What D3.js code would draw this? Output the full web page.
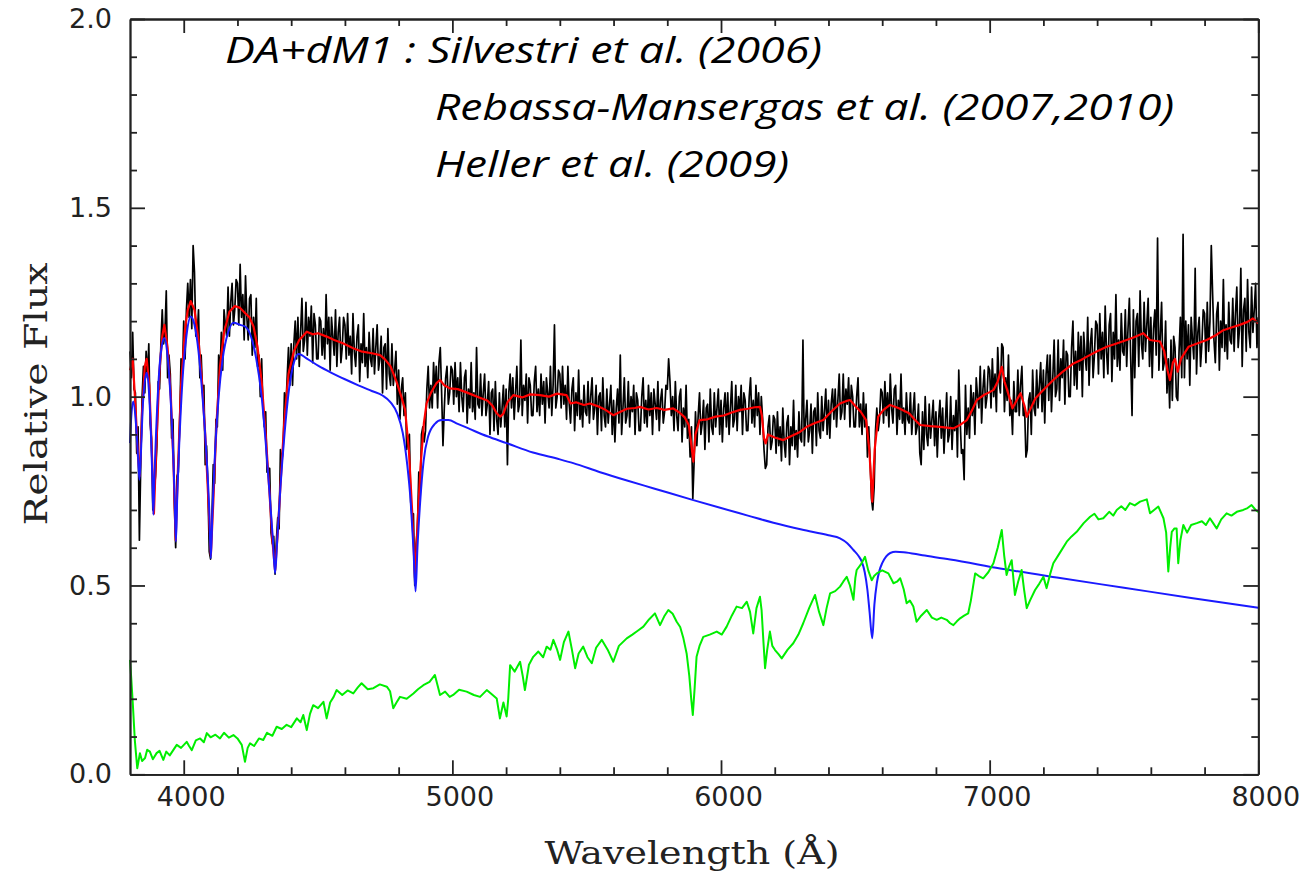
<!DOCTYPE html>
<html>
<head>
<meta charset="utf-8">
<script src="https://cdn.jsdelivr.net/npm/d3@7"></script>
<style>
  body { margin: 0; background: #fff; }
  svg { display: block; }
  .labels .tick text { font-family: 'DejaVu Sans', sans-serif; font-size: 27px; fill: #222; }
</style>
</head>
<body>
<svg id="chart"></svg>
<script>
const width = 1307;
const height = 873;
const plotLeft = 130;
const plotRight = 1258.3;
const plotTop = 19;
const plotBottom = 774.3;

const titleLines = [
    'DA+dM1 : Silvestri et al. (2006)',
    'Rebassa-Mansergas et al. (2007,2010)',
    'Heller et al. (2009)'
];
const xLabel = 'Wavelength (Å)';
const yLabel = 'Relative Flux';

const xMajorTicks = [4000, 5000, 6000, 7000, 8000];
const xMinorTicks = [4200, 4400, 4600, 4800, 5200, 5400, 5600, 5800, 6200, 6400, 6600, 6800, 7200, 7400, 7600, 7800];
const yMajorTicks = [0, 0.5, 1, 1.5, 2];
const yMinorTicks = [0.1, 0.2, 0.3, 0.4, 0.6, 0.7, 0.8, 0.9, 1.1, 1.2, 1.3, 1.4, 1.6, 1.7, 1.8, 1.9];

// observed spectrum, 5 A bins from 3800 A (one row = 100 A)
const blackStart = 3800;
const blackStep = 5;
const blackFlux = [
    1.12, 1.05, 1.17, 1.02, 1.01, 0.85, 0.92, 0.62, 0.82, 1.00, 1.08, 1.01, 1.12, 1.05, 1.14, 0.93, 0.89, 0.70, 0.75, 0.79,
    0.87, 1.04, 1.02, 1.14, 1.23, 1.14, 1.17, 1.28, 1.05, 1.11, 1.06, 0.89, 0.94, 0.72, 0.60, 0.79, 0.80, 0.94, 1.10, 1.06,
    1.20, 1.10, 1.23, 1.30, 1.21, 1.31, 1.18, 1.40, 1.33, 1.16, 1.16, 1.23, 1.05, 1.11, 1.01, 1.03, 0.82, 0.87, 0.76, 0.59,
    0.57, 0.68, 0.82, 0.77, 0.94, 0.92, 1.11, 1.06, 1.17, 1.07, 1.23, 1.19, 1.16, 1.29, 1.16, 1.25, 1.30, 1.19, 1.23, 1.31,
    1.30, 1.19, 1.35, 1.21, 1.27, 1.15, 1.32, 1.21, 1.15, 1.26, 1.27, 1.11, 1.21, 1.13, 1.26, 1.08, 1.11, 1.00, 1.10, 0.97,
    0.92, 0.96, 0.80, 0.81, 0.81, 0.64, 0.61, 0.63, 0.53, 0.62, 0.68, 0.65, 0.86, 0.83, 0.86, 1.01, 0.97, 1.05, 1.13, 1.03,
    1.14, 1.03, 1.14, 1.20, 1.10, 1.21, 1.08, 1.17, 1.26, 1.12, 1.15, 1.25, 1.11, 1.21, 1.16, 1.24, 1.09, 1.22, 1.19, 1.10,
    1.10, 1.21, 1.20, 1.11, 1.18, 1.10, 1.27, 1.14, 1.21, 1.07, 1.21, 1.16, 1.11, 1.23, 1.08, 1.17, 1.21, 1.09, 1.13, 1.21,
    1.19, 1.10, 1.22, 1.11, 1.16, 1.06, 1.22, 1.12, 1.08, 1.16, 1.19, 1.04, 1.14, 1.09, 1.22, 1.08, 1.13, 1.05, 1.17, 1.10,
    1.08, 1.18, 1.06, 1.13, 1.19, 1.07, 1.10, 1.16, 1.01, 1.13, 1.14, 1.02, 1.18, 1.06, 1.03, 1.14, 1.03, 1.07, 1.12, 0.98,
    1.07, 0.94, 1.02, 1.05, 0.95, 1.01, 0.86, 0.89, 0.90, 0.72, 0.68, 0.69, 0.50, 0.61, 0.65, 0.80, 0.73, 0.90, 0.92, 0.88,
    0.91, 1.02, 1.08, 0.97, 1.03, 0.97, 1.09, 1.01, 1.08, 0.97, 1.09, 1.13, 1.01, 0.87, 0.97, 1.05, 1.08, 0.98, 1.01, 1.08,
    1.07, 0.98, 1.09, 1.00, 1.05, 0.96, 1.09, 1.00, 0.96, 1.05, 1.07, 0.93, 1.02, 0.97, 1.09, 0.96, 1.01, 0.94, 1.13, 0.98,
    0.97, 1.06, 0.95, 1.01, 1.06, 0.95, 0.98, 1.04, 0.90, 1.01, 1.02, 0.91, 1.04, 0.94, 0.90, 1.01, 0.92, 0.97, 1.03, 0.92,
    1.02, 0.82, 1.01, 1.06, 0.97, 1.05, 0.94, 1.01, 1.08, 0.96, 0.98, 1.15, 0.95, 1.03, 0.99, 1.06, 0.93, 1.05, 1.03, 0.95,
    0.95, 1.04, 1.08, 0.96, 1.02, 0.95, 1.06, 0.98, 1.04, 0.93, 1.05, 1.01, 0.97, 1.08, 0.95, 1.03, 1.19, 0.97, 1.00, 1.07,
    1.06, 0.97, 1.08, 0.98, 1.03, 0.94, 1.08, 0.98, 0.93, 1.02, 1.05, 0.91, 1.01, 0.95, 1.07, 0.94, 0.99, 0.92, 1.03, 0.96,
    0.95, 1.04, 0.93, 1.00, 1.05, 0.94, 0.97, 1.03, 0.90, 1.00, 1.01, 0.91, 1.05, 0.95, 0.92, 1.02, 0.93, 0.98, 1.03, 0.90,
    0.99, 0.88, 0.97, 1.02, 0.93, 1.11, 0.90, 0.97, 1.05, 0.93, 0.95, 1.04, 0.92, 1.00, 0.96, 1.03, 0.90, 1.01, 0.99, 0.91,
    0.91, 1.00, 1.05, 0.93, 0.99, 0.92, 1.03, 0.95, 1.01, 0.90, 1.02, 0.98, 0.94, 1.04, 0.91, 0.99, 1.02, 0.93, 0.96, 1.03,
    1.02, 1.10, 1.04, 0.95, 1.00, 0.91, 1.04, 0.95, 0.91, 1.00, 1.02, 0.88, 0.97, 0.92, 1.03, 0.89, 0.94, 0.84, 0.92, 0.73,
    0.83, 0.96, 0.87, 0.95, 1.01, 0.90, 0.93, 0.99, 0.86, 0.97, 0.98, 0.88, 1.02, 0.92, 0.90, 1.01, 0.92, 0.97, 1.02, 0.90,
    0.99, 0.88, 0.97, 1.01, 0.92, 1.01, 0.90, 0.97, 1.04, 0.92, 0.94, 1.03, 0.91, 1.00, 0.96, 1.03, 0.90, 1.01, 0.99, 0.91,
    0.91, 1.00, 1.05, 0.93, 0.99, 0.92, 1.03, 0.95, 1.01, 0.90, 1.00, 0.94, 0.86, 0.81, 0.82, 0.92, 0.95, 0.86, 0.88, 0.95,
    0.94, 0.85, 0.96, 0.87, 0.92, 0.83, 0.97, 0.88, 0.84, 0.93, 0.95, 0.82, 0.92, 0.87, 0.99, 0.86, 0.91, 0.84, 0.96, 0.89,
    0.88, 1.15, 0.87, 0.94, 0.99, 0.88, 0.91, 0.98, 0.85, 0.96, 0.97, 0.87, 1.01, 0.91, 0.89, 1.00, 0.91, 0.96, 1.02, 0.90,
    0.99, 0.89, 0.98, 1.02, 0.94, 1.02, 0.92, 0.99, 1.06, 0.94, 0.96, 1.06, 0.94, 1.02, 0.98, 1.05, 0.92, 1.03, 1.00, 0.92,
    0.92, 1.00, 1.05, 0.92, 0.98, 0.90, 1.01, 0.92, 0.98, 0.84, 0.92, 0.83, 0.73, 0.70, 0.76, 0.91, 0.97, 0.91, 0.94, 1.02,
    1.01, 0.93, 1.04, 0.95, 1.01, 0.92, 1.06, 0.97, 0.93, 1.02, 1.03, 0.90, 0.99, 0.94, 1.06, 0.93, 0.97, 0.90, 1.01, 0.94,
    0.93, 1.01, 0.90, 0.96, 1.01, 0.90, 0.92, 0.98, 0.85, 0.82, 0.96, 0.86, 1.00, 0.90, 0.87, 0.98, 0.89, 0.94, 0.99, 0.87,
    0.96, 0.84, 0.94, 0.99, 0.89, 0.97, 0.85, 0.93, 1.01, 0.88, 0.90, 1.00, 0.86, 0.95, 0.91, 0.99, 0.84, 1.07, 0.94, 0.85,
    0.86, 0.78, 1.03, 0.90, 0.97, 0.89, 1.03, 0.95, 1.01, 0.90, 1.05, 1.00, 0.97, 1.08, 0.93, 1.02, 1.07, 0.97, 1.00, 1.08,
    1.07, 0.97, 1.10, 1.00, 1.06, 0.96, 1.13, 1.04, 1.01, 1.14, 1.13, 0.96, 1.05, 0.99, 1.11, 0.95, 0.99, 0.90, 1.04, 0.96,
    0.96, 1.07, 0.95, 1.03, 1.08, 0.95, 0.97, 0.84, 0.86, 0.99, 1.01, 0.90, 1.07, 0.97, 0.95, 1.07, 0.97, 1.03, 1.09, 0.96,
    1.07, 0.93, 1.06, 1.11, 0.99, 1.11, 0.96, 1.05, 1.15, 1.00, 1.02, 1.15, 0.99, 1.10, 1.05, 1.15, 0.98, 1.12, 1.11, 1.00,
    1.00, 1.13, 1.20, 1.03, 1.12, 1.02, 1.17, 1.07, 1.16, 1.00, 1.17, 1.11, 1.07, 1.21, 1.03, 1.14, 1.18, 1.05, 1.11, 1.20,
    1.19, 1.06, 1.22, 1.10, 1.17, 1.05, 1.24, 1.12, 1.06, 1.19, 1.22, 1.04, 1.17, 1.10, 1.27, 1.08, 1.15, 1.07, 1.22, 1.12,
    1.11, 1.23, 1.08, 1.18, 1.26, 1.10, 0.95, 1.23, 1.05, 1.20, 1.22, 1.08, 1.28, 1.14, 1.10, 1.25, 1.12, 1.19, 1.26, 1.08,
    1.21, 1.05, 1.18, 1.23, 1.11, 1.42, 1.07, 1.16, 1.25, 1.07, 1.09, 1.20, 1.01, 1.10, 0.97, 1.15, 0.99, 1.16, 1.13, 1.00,
    0.99, 1.12, 1.21, 1.05, 1.43, 1.05, 1.20, 1.10, 1.19, 1.03, 1.21, 1.15, 1.10, 1.34, 1.06, 1.17, 1.21, 1.08, 1.14, 1.23,
    1.22, 1.09, 1.25, 1.12, 1.20, 1.40, 1.27, 1.15, 1.09, 1.22, 1.25, 1.07, 1.20, 1.13, 1.31, 1.12, 1.19, 1.10, 1.25, 1.15,
    1.14, 1.26, 1.12, 1.22, 1.29, 1.13, 1.18, 1.34, 1.08, 1.23, 1.26, 1.12, 1.31, 1.17, 1.13, 1.29, 1.17, 1.23, 1.30, 1.13,
    1.21
];

// composite fit (WD + dM)
const redSpectrum = [
    [3800, 1.07], [3810, 1.10], [3820, 0.98], [3830, 0.84], [3836, 0.79], [3845, 0.96], [3855, 1.08], [3862, 1.10],
    [3872, 1.03], [3882, 0.84], [3889, 0.69], [3897, 0.85], [3910, 1.07], [3920, 1.16], [3928, 1.19], [3940, 1.13],
    [3952, 1.00], [3962, 0.82], [3970, 0.62], [3978, 0.80], [3990, 1.03], [4005, 1.18], [4015, 1.23], [4026, 1.253],
    [4040, 1.23], [4055, 1.15], [4068, 1.04], [4080, 0.90], [4092, 0.72], [4101, 0.58], [4110, 0.72], [4122, 0.93],
    [4135, 1.08], [4150, 1.17], [4170, 1.225], [4190, 1.24], [4210, 1.235], [4230, 1.22], [4245, 1.21], [4260, 1.185],
    [4275, 1.13], [4290, 1.04], [4305, 0.90], [4318, 0.76], [4330, 0.62], [4340, 0.54], [4350, 0.64], [4362, 0.79],
    [4375, 0.94], [4390, 1.06], [4410, 1.12], [4430, 1.15], [4458, 1.172], [4480, 1.165], [4500, 1.168], [4532, 1.159],
    [4560, 1.15], [4590, 1.142], [4631, 1.128], [4660, 1.12], [4700, 1.115], [4731, 1.110], [4750, 1.098], [4770, 1.08],
    [4792, 1.04], [4810, 1.00], [4824, 0.965], [4838, 0.86], [4850, 0.70], [4861, 0.52], [4870, 0.66], [4882, 0.82],
    [4894, 0.93], [4904, 0.982], [4920, 1.01], [4940, 1.035], [4954, 1.044], [4970, 1.03], [4990, 1.022], [5020, 1.02],
    [5050, 1.012], [5078, 1.004], [5100, 0.998], [5130, 0.99], [5150, 0.975], [5165, 0.956], [5178, 0.947], [5190, 0.955],
    [5205, 0.985], [5227, 1.004], [5260, 0.998], [5290, 1.006], [5326, 1.004], [5360, 1.0], [5390, 1.008], [5425, 1.004],
    [5440, 0.982], [5460, 0.985], [5490, 0.978], [5512, 0.982], [5540, 0.975], [5570, 0.965], [5599, 0.951], [5620, 0.958],
    [5650, 0.968], [5680, 0.97], [5698, 0.973], [5730, 0.966], [5760, 0.97], [5790, 0.965], [5822, 0.969], [5845, 0.958],
    [5865, 0.945], [5880, 0.925], [5890, 0.87], [5897, 0.828], [5905, 0.90], [5920, 0.938], [5950, 0.94], [5980, 0.947],
    [6010, 0.95], [6040, 0.958], [6071, 0.965], [6100, 0.968], [6125, 0.972], [6145, 0.973], [6152, 0.95], [6160, 0.89],
    [6166, 0.876], [6175, 0.90], [6200, 0.892], [6232, 0.885], [6260, 0.895], [6290, 0.905], [6319, 0.92], [6350, 0.93],
    [6381, 0.938], [6410, 0.96], [6443, 0.982], [6465, 0.988], [6480, 0.991], [6500, 0.975], [6520, 0.96], [6540, 0.938],
    [6552, 0.86], [6563, 0.722], [6572, 0.86], [6585, 0.947], [6605, 0.965], [6629, 0.978], [6660, 0.97], [6700, 0.956],
    [6720, 0.94], [6741, 0.925], [6780, 0.922], [6815, 0.92], [6840, 0.918], [6865, 0.916], [6890, 0.925], [6915, 0.938],
    [6935, 0.965], [6952, 0.991], [6980, 1.005], [7000, 1.012], [7015, 1.018], [7030, 1.04], [7045, 1.079], [7055, 1.04],
    [7065, 1.018], [7085, 0.969], [7100, 0.99], [7115, 1.009], [7130, 0.975], [7138, 0.947], [7150, 0.965], [7170, 0.995],
    [7188, 1.009], [7210, 1.025], [7237, 1.044], [7270, 1.065], [7312, 1.088], [7340, 1.097], [7362, 1.106], [7400, 1.12],
    [7436, 1.132], [7470, 1.14], [7510, 1.150], [7540, 1.158], [7572, 1.168], [7597, 1.150], [7615, 1.148], [7634, 1.146],
    [7650, 1.12], [7662, 1.07], [7671, 1.044], [7682, 1.09], [7690, 1.10], [7700, 1.066], [7712, 1.10], [7740, 1.132],
    [7770, 1.14], [7808, 1.15], [7840, 1.162], [7870, 1.176], [7900, 1.183], [7931, 1.19], [7960, 1.198], [7980, 1.207],
    [8000, 1.194]
];

// white dwarf (DA) model
const blueSpectrum = [
    [3800, 0.877], [3805, 0.95], [3812, 0.987], [3822, 0.93], [3830, 0.84], [3835, 0.78], [3840, 0.84], [3848, 0.98],
    [3855, 1.04], [3862, 1.063], [3870, 1.02], [3878, 0.90], [3883, 0.79], [3887, 0.687], [3891, 0.79], [3898, 0.92],
    [3910, 1.08], [3920, 1.14], [3928, 1.155], [3938, 1.12], [3950, 1.01], [3960, 0.86], [3966, 0.74], [3971, 0.616],
    [3976, 0.74], [3983, 0.87], [3995, 1.04], [4010, 1.16], [4026, 1.212], [4040, 1.19], [4055, 1.12], [4070, 1.00],
    [4085, 0.84], [4095, 0.70], [4101, 0.572], [4107, 0.70], [4117, 0.86], [4130, 1.00], [4145, 1.10], [4165, 1.17],
    [4185, 1.196], [4210, 1.19], [4230, 1.185], [4250, 1.16], [4270, 1.10], [4290, 1.00], [4305, 0.88], [4320, 0.74],
    [4332, 0.62], [4340, 0.532], [4348, 0.62], [4360, 0.76], [4375, 0.90], [4392, 1.02], [4410, 1.09], [4427, 1.113],
    [4460, 1.10], [4500, 1.082], [4550, 1.063], [4600, 1.046], [4650, 1.03], [4700, 1.015], [4740, 1.003], [4770, 0.985],
    [4795, 0.955], [4815, 0.905], [4832, 0.82], [4845, 0.72], [4855, 0.60], [4863, 0.484], [4870, 0.60], [4880, 0.72],
    [4893, 0.83], [4910, 0.895], [4935, 0.928], [4960, 0.938], [4985, 0.938], [5020, 0.928], [5066, 0.914], [5130, 0.895],
    [5202, 0.877], [5300, 0.852], [5400, 0.834], [5450, 0.824], [5550, 0.80], [5650, 0.778], [5750, 0.757], [5897, 0.726],
    [6000, 0.705], [6100, 0.685], [6195, 0.666], [6300, 0.648], [6400, 0.633], [6443, 0.625], [6470, 0.612], [6493, 0.594],
    [6512, 0.578], [6524, 0.563], [6535, 0.535], [6545, 0.488], [6553, 0.43], [6563, 0.36], [6571, 0.45], [6580, 0.506],
    [6590, 0.54], [6600, 0.559], [6615, 0.577], [6630, 0.586], [6650, 0.589], [6680, 0.588], [6750, 0.58], [6853, 0.569],
    [7039, 0.545], [7250, 0.521], [7500, 0.494], [7750, 0.467], [8000, 0.441]
];

// M dwarf (dM1) template
const greenSpectrum = [
    [3800, 0.303], [3805, 0.25], [3811, 0.18], [3818, 0.09], [3827, 0.016], [3837, 0.056], [3845, 0.035], [3856, 0.043],
    [3864, 0.065], [3874, 0.06], [3885, 0.04], [3899, 0.056], [3910, 0.062], [3924, 0.038], [3935, 0.06], [3948, 0.05],
    [3961, 0.064], [3974, 0.078], [3990, 0.07], [4011, 0.086], [4020, 0.075], [4030, 0.064], [4045, 0.09], [4061, 0.095],
    [4075, 0.085], [4086, 0.109], [4100, 0.098], [4118, 0.105], [4135, 0.095], [4150, 0.11], [4168, 0.097], [4185, 0.104],
    [4200, 0.095], [4216, 0.078], [4228, 0.033], [4238, 0.07], [4247, 0.082], [4262, 0.075], [4280, 0.095], [4296, 0.091],
    [4310, 0.11], [4330, 0.102], [4346, 0.126], [4365, 0.12], [4383, 0.131], [4400, 0.125], [4421, 0.148], [4435, 0.138],
    [4445, 0.157], [4458, 0.117], [4470, 0.16], [4482, 0.183], [4500, 0.175], [4520, 0.192], [4532, 0.148], [4545, 0.19],
    [4558, 0.205], [4569, 0.223], [4590, 0.21], [4610, 0.222], [4631, 0.214], [4648, 0.23], [4662, 0.241], [4685, 0.225],
    [4706, 0.228], [4730, 0.238], [4756, 0.232], [4768, 0.22], [4780, 0.175], [4792, 0.19], [4805, 0.205], [4830, 0.20],
    [4855, 0.214], [4872, 0.225], [4892, 0.236], [4915, 0.245], [4935, 0.263], [4945, 0.235], [4954, 0.21], [4973, 0.219],
    [4990, 0.205], [5003, 0.21], [5025, 0.224], [5053, 0.219], [5080, 0.21], [5103, 0.205], [5128, 0.223], [5150, 0.21],
    [5165, 0.201], [5177, 0.148], [5190, 0.19], [5202, 0.153], [5208, 0.2], [5215, 0.289], [5232, 0.272], [5252, 0.298],
    [5262, 0.26], [5270, 0.223], [5285, 0.29], [5301, 0.311], [5320, 0.325], [5338, 0.31], [5351, 0.338], [5365, 0.33],
    [5376, 0.356], [5390, 0.33], [5401, 0.303], [5415, 0.35], [5432, 0.378], [5445, 0.33], [5457, 0.281], [5470, 0.32],
    [5487, 0.338], [5503, 0.31], [5519, 0.294], [5535, 0.335], [5556, 0.356], [5578, 0.33], [5599, 0.298], [5620, 0.34],
    [5649, 0.36], [5670, 0.37], [5690, 0.38], [5711, 0.391], [5732, 0.41], [5754, 0.426], [5773, 0.395], [5790, 0.42],
    [5804, 0.435], [5820, 0.425], [5835, 0.404], [5848, 0.39], [5860, 0.36], [5872, 0.32], [5882, 0.26], [5889, 0.20],
    [5895, 0.157], [5902, 0.23], [5909, 0.311], [5920, 0.34], [5934, 0.364], [5958, 0.37], [5984, 0.378], [6003, 0.37],
    [6021, 0.391], [6040, 0.42], [6058, 0.444], [6078, 0.44], [6096, 0.457], [6108, 0.43], [6120, 0.373], [6132, 0.44],
    [6145, 0.470], [6151, 0.435], [6158, 0.35], [6164, 0.281], [6172, 0.33], [6182, 0.378], [6191, 0.34], [6201, 0.329],
    [6214, 0.318], [6226, 0.307], [6248, 0.33], [6269, 0.347], [6288, 0.37], [6306, 0.40], [6328, 0.44], [6350, 0.475],
    [6365, 0.43], [6381, 0.395], [6393, 0.44], [6406, 0.479], [6425, 0.485], [6443, 0.497], [6455, 0.51], [6468, 0.523],
    [6480, 0.50], [6493, 0.462], [6500, 0.52], [6505, 0.541], [6520, 0.555], [6536, 0.576], [6548, 0.54], [6561, 0.514],
    [6570, 0.525], [6580, 0.532], [6600, 0.54], [6623, 0.532], [6642, 0.506], [6655, 0.51], [6667, 0.519], [6680, 0.49],
    [6691, 0.453], [6703, 0.46], [6716, 0.444], [6728, 0.404], [6745, 0.42], [6766, 0.435], [6785, 0.415], [6803, 0.409],
    [6820, 0.415], [6840, 0.409], [6853, 0.40], [6865, 0.395], [6878, 0.405], [6890, 0.413], [6905, 0.42], [6920, 0.426],
    [6930, 0.46], [6946, 0.532], [6960, 0.525], [6976, 0.519], [6995, 0.535], [7014, 0.559], [7030, 0.60], [7045, 0.647],
    [7054, 0.58], [7063, 0.528], [7072, 0.55], [7082, 0.567], [7094, 0.475], [7106, 0.51], [7119, 0.541], [7128, 0.49],
    [7138, 0.44], [7150, 0.46], [7169, 0.488], [7185, 0.505], [7200, 0.523], [7212, 0.493], [7225, 0.53], [7237, 0.559],
    [7260, 0.585], [7287, 0.616], [7305, 0.63], [7324, 0.642], [7350, 0.665], [7374, 0.682], [7390, 0.69], [7405, 0.675],
    [7423, 0.678], [7445, 0.695], [7460, 0.685], [7473, 0.70], [7490, 0.71], [7505, 0.70], [7522, 0.718], [7540, 0.712],
    [7560, 0.722], [7585, 0.728], [7597, 0.691], [7612, 0.70], [7628, 0.709], [7647, 0.678], [7657, 0.64], [7665, 0.537],
    [7672, 0.60], [7678, 0.642], [7688, 0.651], [7696, 0.651], [7702, 0.559], [7710, 0.62], [7721, 0.66], [7735, 0.64],
    [7750, 0.66], [7771, 0.665], [7790, 0.67], [7805, 0.66], [7820, 0.678], [7832, 0.665], [7845, 0.651], [7862, 0.675],
    [7882, 0.691], [7900, 0.685], [7920, 0.695], [7944, 0.70], [7960, 0.705], [7975, 0.713], [7990, 0.70], [8000, 0.695]
];

const blackSpectrum = blackFlux.map((f, i) => [blackStart + i * blackStep, f]);

const svg = d3.select('#chart')
    .attr('width', width)
    .attr('height', height);

const x = d3.scaleLinear().domain([3800, 8000]).range([plotLeft, plotRight]);
const y = d3.scaleLinear().domain([0, 2]).range([plotBottom, plotTop]);

const line = d3.line().x(d => x(d[0])).y(d => y(d[1]));
const smoothLine = d3.line().x(d => x(d[0])).y(d => y(d[1])).curve(d3.curveMonotoneX);

const plot = svg.append('g');

plot.append('path').datum(blackSpectrum)
    .attr('fill', 'none').attr('stroke', '#000').attr('stroke-width', 1.7)
    .attr('stroke-linejoin', 'round').attr('d', line);

plot.append('path').datum(redSpectrum)
    .attr('fill', 'none').attr('stroke', '#ff0000').attr('stroke-width', 2.2)
    .attr('stroke-linejoin', 'round').attr('d', line);

plot.append('path').datum(blueSpectrum)
    .attr('fill', 'none').attr('stroke', '#1a1aff').attr('stroke-width', 2)
    .attr('d', smoothLine);

plot.append('path').datum(greenSpectrum)
    .attr('fill', 'none').attr('stroke', '#00ee00').attr('stroke-width', 2)
    .attr('stroke-linejoin', 'round').attr('d', line);

// axes: ticks point inwards on all four sides
function styleAxis(g) {
    g.select('.domain').attr('stroke', '#222').attr('stroke-width', 1.8);
    g.selectAll('.tick line').attr('stroke', '#222').attr('stroke-width', 1.8);
}

const xAxisBottom = svg.append('g').attr('class', 'labels')
    .attr('transform', `translate(0, ${plotBottom})`)
    .call(d3.axisBottom(x).tickValues(xMajorTicks).tickSize(-14).tickSizeOuter(0)
        .tickPadding(12.5).tickFormat(d3.format('d')))
    .call(styleAxis);
xAxisBottom.selectAll('.tick text').attr('x', 7);

svg.append('g')
    .attr('transform', `translate(0, ${plotBottom})`)
    .call(d3.axisBottom(x).tickValues(xMinorTicks).tickSize(-7).tickSizeOuter(0).tickFormat(''))
    .call(styleAxis);

svg.append('g')
    .attr('transform', `translate(0, ${plotTop})`)
    .call(d3.axisTop(x).tickValues(xMajorTicks).tickSize(-14).tickSizeOuter(0).tickFormat(''))
    .call(styleAxis);

svg.append('g')
    .attr('transform', `translate(0, ${plotTop})`)
    .call(d3.axisTop(x).tickValues(xMinorTicks).tickSize(-7).tickSizeOuter(0).tickFormat(''))
    .call(styleAxis);

svg.append('g').attr('class', 'labels')
    .attr('transform', `translate(${plotLeft}, 0)`)
    .call(d3.axisLeft(y).tickValues(yMajorTicks).tickSize(-15).tickSizeOuter(0)
        .tickPadding(18).tickFormat(d3.format('.1f')))
    .call(styleAxis);

svg.append('g')
    .attr('transform', `translate(${plotLeft}, 0)`)
    .call(d3.axisLeft(y).tickValues(yMinorTicks).tickSize(-7).tickSizeOuter(0).tickFormat(''))
    .call(styleAxis);

svg.append('g')
    .attr('transform', `translate(${plotRight}, 0)`)
    .call(d3.axisRight(y).tickValues(yMajorTicks).tickSize(-15).tickSizeOuter(0).tickFormat(''))
    .call(styleAxis);

svg.append('g')
    .attr('transform', `translate(${plotRight}, 0)`)
    .call(d3.axisRight(y).tickValues(yMinorTicks).tickSize(-7).tickSizeOuter(0).tickFormat(''))
    .call(styleAxis);

// axis titles
svg.append('text')
    .attr('x', 692).attr('y', 864)
    .attr('text-anchor', 'middle')
    .attr('font-family', "'DejaVu Serif', serif").attr('font-size', 31)
    .attr('fill', '#222')
    .attr('textLength', 295).attr('lengthAdjust', 'spacingAndGlyphs')
    .text(xLabel);

svg.append('text')
    .attr('transform', 'translate(47, 394) rotate(-90)')
    .attr('text-anchor', 'middle')
    .attr('font-family', "'DejaVu Serif', serif").attr('font-size', 31)
    .attr('fill', '#222')
    .attr('textLength', 263).attr('lengthAdjust', 'spacingAndGlyphs')
    .text(yLabel);

// reference notes
const titlePos = [[225, 63, 597], [435, 120, 739], [435, 177, 354]];
svg.selectAll('.note').data(titleLines).enter().append('text')
    .attr('class', 'note')
    .attr('x', (d, i) => titlePos[i][0])
    .attr('y', (d, i) => titlePos[i][1])
    .attr('textLength', (d, i) => titlePos[i][2])
    .attr('lengthAdjust', 'spacingAndGlyphs')
    .attr('font-family', "'Open Sans', sans-serif")
    .attr('font-style', 'italic')
    .attr('font-size', 36)
    .attr('fill', '#000')
    .text(d => d);
</script>
</body>
</html>
